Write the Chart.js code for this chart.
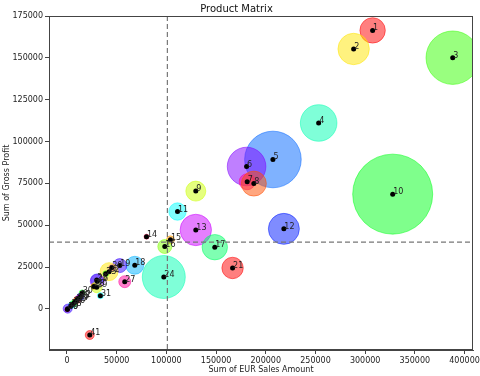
<!DOCTYPE html>
<html>
<head>
<meta charset="utf-8">
<script src="https://cdn.jsdelivr.net/npm/chart.js@4/dist/chart.umd.min.js"></script>
<style>
  html, body { margin: 0; padding: 0; background: #fff; }
  #chart { display: block; }
</style>
</head>
<body>
<canvas id="chart" width="480" height="376"></canvas>
<script>
// product rank (by gross profit)
const products = ["1","2","3","4","5","6","7","8","9","10",
  "11","12","13","14","15","16","17","18","19","20",
  "21","22","23","24","25","26","27","28","29","30",
  "31","32","33","34","35","36","37","38","39","40","41"];

const salesEur = [307500, 288400, 388100, 253200, 207200, 180700, 181300, 188000, 129600, 327700,
  111200, 218200, 129600, 80000, 104100, 98400, 148700, 68200, 53100, 45000,
  166600, 42300, 39000, 97400, 29900, 30500, 58100, 27000, 29900, 15300,
  33600, 13500, 12000, 10500, 9000, 7500, 6000, 4000, 700, 300, 22900];

const grossProfit = [166400, 155300, 150100, 111100, 89300, 85100, 76000, 74900, 70400, 68600,
  58200, 47850, 47200, 43200, 41300, 37300, 36900, 26100, 25900, 24700,
  24500, 22300, 21000, 19100, 17300, 16600, 16300, 13500, 13000, 9600,
  7950, 7300, 6500, 5600, 4700, 3800, 2900, 1900, 200, -300, -15550];

// bubble radius (px)
const bubbleSize = [12.7, 15.7, 26.7, 18.3, 28.3, 19.3, 8, 12.5, 10, 40,
  8.7, 15.5, 15.7, 2.5, 4, 7, 12.7, 9, 7, 3,
  10.7, 9, 3, 21.5, 6, 7, 6, 3, 5.5, 3,
  3, 3.5, 3, 3.5, 3, 3, 3.5, 3, 4.5, 2.5, 4.5];

const xTickValues = [0, 50000, 100000, 150000, 200000, 250000, 300000, 350000, 400000];
const yTickValues = [0, 25000, 50000, 75000, 100000, 125000, 150000, 175000];

const salesMean = 101000;
const profitMean = 39900;

const FONT = "'DejaVu Sans', sans-serif";

const bubbles = products.map((p, i) => ({ x: salesEur[i], y: grossProfit[i], r: bubbleSize[i] }));
const centers = products.map((p, i) => ({ x: salesEur[i], y: grossProfit[i], r: 2.5 }));
const hues = products.map((p, i) => (i * 54) % 360);

const refLines = {
  id: "refLines",
  afterDatasetsDraw(chart) {
    const { ctx, chartArea, scales } = chart;
    const px = scales.x.getPixelForValue(salesMean);
    const py = scales.y.getPixelForValue(profitMean);
    ctx.save();
    ctx.strokeStyle = "#777";
    ctx.lineWidth = 1.2;
    ctx.setLineDash([5, 3]);
    ctx.beginPath();
    ctx.moveTo(px, chartArea.top);
    ctx.lineTo(px, chartArea.bottom);
    ctx.moveTo(chartArea.left, py);
    ctx.lineTo(chartArea.right, py);
    ctx.stroke();
    ctx.restore();

    // point labels
    const meta = chart.getDatasetMeta(0);
    ctx.save();
    ctx.fillStyle = "#222";
    ctx.font = "8px " + FONT;
    ctx.textAlign = "left";
    ctx.textBaseline = "alphabetic";
    meta.data.forEach((el, i) => {
      ctx.fillText(products[i], el.x + 0.5, el.y);
    });
    ctx.restore();
  },
  afterDraw(chart) {
    const { ctx, chartArea } = chart;
    ctx.save();
    ctx.strokeStyle = "#444";
    ctx.lineWidth = 1;
    ctx.strokeRect(chartArea.left + 0.5, chartArea.top + 0.5,
      chartArea.right - chartArea.left - 1, chartArea.bottom - chartArea.top - 1);
    ctx.restore();
  }
};

new Chart(document.getElementById("chart").getContext("2d"), {
  type: "bubble",
  data: {
    datasets: [{
      data: bubbles,
      backgroundColor: hues.map(h => `hsla(${h}, 100%, 50%, 0.5)`),
      borderColor: hues.map(h => `hsla(${h}, 100%, 50%, 0.5)`),
      borderWidth: 1,
      order: 2
    }, {
      data: centers,
      backgroundColor: "#000",
      borderColor: "#000",
      borderWidth: 0,
      order: 1
    }]
  },
  options: {
    responsive: false,
    animation: false,
    events: [],
    layout: { autoPadding: false, padding: { left: 0, right: 7, top: 0, bottom: 0 } },
    plugins: {
      legend: { display: false },
      tooltip: { enabled: false },
      title: {
        display: true,
        text: "Product Matrix",
        color: "#111",
        font: { family: FONT, size: 10, weight: "normal" },
        padding: { top: 3, bottom: 1 }
      }
    },
    scales: {
      x: {
        type: "linear",
        min: -18100,
        max: 408500,
        afterFit: s => { s.height = 26; s.paddingRight = 0; s.paddingLeft = 0; },
        afterBuildTicks: s => { s.ticks = xTickValues.map(v => ({ value: v })); },
        ticks: {
          maxRotation: 0,
          autoSkip: false,
          padding: 2,
          color: "#222",
          font: { family: FONT, size: 8 },
          callback: v => String(v)
        },
        grid: { drawOnChartArea: false, drawTicks: true, tickLength: 4, color: "#444" },
        border: { display: true, color: "#444" },
        title: {
          display: true,
          text: "Sum of EUR Sales Amount",
          color: "#222",
          font: { family: FONT, size: 8 },
          padding: { top: 0, bottom: 1 }
        }
      },
      y: {
        type: "linear",
        min: -24500,
        max: 175000,
        afterFit: s => { s.width = 49; s.paddingTop = 0; s.paddingBottom = 0; },
        afterBuildTicks: s => { s.ticks = yTickValues.map(v => ({ value: v })); },
        ticks: {
          autoSkip: false,
          padding: 2,
          color: "#222",
          font: { family: FONT, size: 8 },
          callback: v => String(v)
        },
        grid: { drawOnChartArea: false, drawTicks: true, tickLength: 4, color: "#444" },
        border: { display: true, color: "#444" },
        title: {
          display: true,
          text: "Sum of Gross Profit",
          color: "#222",
          font: { family: FONT, size: 8 },
          padding: { top: 2, bottom: 0 }
        }
      }
    }
  },
  plugins: [refLines]
});
</script>
</body>
</html>
